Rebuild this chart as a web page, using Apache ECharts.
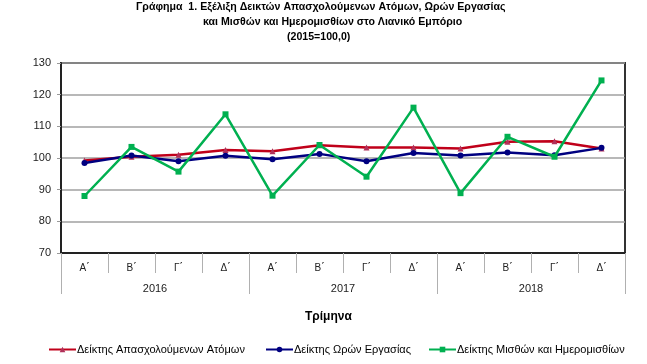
<!DOCTYPE html>
<html>
<head>
<meta charset="utf-8">
<script src="https://cdn.jsdelivr.net/npm/echarts@6/dist/echarts.min.js"></script>
<style>
html,body{margin:0;padding:0;background:#fff;}
#c{width:647px;height:364px;}
</style>
</head>
<body>
<div id="c"></div>
<script>
var quarters = ['Α΄','Β΄','Γ΄','Δ΄','Α΄','Β΄','Γ΄','Δ΄','Α΄','Β΄','Γ΄','Δ΄'];
var years = ['2016','2017','2018'];
var yTicks = [70, 80, 90, 100, 110, 120, 130];
var employed = [99.2, 100.4, 101.0, 102.5, 102.1, 104.0, 103.3, 103.3, 103.0, 105.1, 105.3, 103.0];
var hours = [98.4, 100.8, 99.0, 100.7, 99.6, 101.3, 99.0, 101.6, 100.8, 101.7, 100.9, 103.2];
var wages = [88.0, 103.5, 95.7, 113.8, 88.1, 104.1, 94.1, 115.9, 88.9, 106.7, 100.4, 124.5];
var seriesNames = ['Δείκτης Απασχολούμενων Ατόμων', 'Δείκτης Ωρών Εργασίας', 'Δείκτης Μισθών και Ημερομισθίων'];

var FONT = "'Liberation Sans',Arial,sans-serif";
var qCats = quarters.map(function(q, i){ return q + '|' + i; });

var chart = echarts.init(document.getElementById('c'), null, {renderer: 'canvas'});
var TF = 'bold 10.6px ' + FONT;
var option = {
  animation: false,
  backgroundColor: '#fff',
  textStyle: {fontFamily: FONT},
  grid: {left: 61, right: 22, top: 63, height: 190, show: true, borderColor: '#333', borderWidth: 2, containLabel: false},
  graphic: [
    {type: 'text', left: 136, top: 2, style: {text: 'Γράφημα  1. Εξέλιξη Δεικτών Απασχολούμενων Ατόμων, Ωρών Εργασίας', font: TF, fill: '#000'}},
    {type: 'text', left: 203, top: 17, style: {text: 'και Μισθών και Ημερομισθίων στο Λιανικό Εμπόριο', font: TF, fill: '#000'}},
    {type: 'text', left: 287, top: 32, style: {text: '(2015=100,0)', font: TF, fill: '#000'}},
    {type: 'text', left: 305, top: 311, style: {text: 'Τρίμηνα', font: 'bold 12px ' + FONT, fill: '#000'}}
  ],
  legend: [
    {data: [seriesNames[0]], left: 43, top: 339, itemWidth: 27, itemHeight: 7, textStyle: {fontSize: 11, color: '#000', fontFamily: FONT, padding: [0,0,0,-4]}},
    {data: [seriesNames[1]], left: 260, top: 339, itemWidth: 27, itemHeight: 7, textStyle: {fontSize: 11, color: '#000', fontFamily: FONT, padding: [0,0,0,-4]}},
    {data: [seriesNames[2]], left: 423, top: 339, itemWidth: 27, itemHeight: 7, textStyle: {fontSize: 11, color: '#000', fontFamily: FONT, padding: [0,0,0,-4]}}
  ],
  xAxis: [
    {
      type: 'category', data: qCats, position: 'bottom', boundaryGap: true,
      axisLine: {show: true, lineStyle: {color: '#222', width: 2}},
      axisTick: {show: true, length: 20, interval: 0, lineStyle: {color: '#b0b0b0', width: 1}},
      axisLabel: {interval: 0, margin: 10, fontSize: 10, color: '#222', fontFamily: FONT,
        formatter: function(v){ return v.split('|')[0]; }},
      splitLine: {show: false}
    },
    {
      type: 'category', data: years, position: 'bottom', boundaryGap: true,
      axisLine: {show: false},
      axisTick: {show: true, length: 41, interval: 0, lineStyle: {color: '#b0b0b0', width: 1}},
      axisLabel: {interval: 0, margin: 30, fontSize: 11, color: '#222', fontFamily: FONT},
      splitLine: {show: false}
    }
  ],
  yAxis: {
    type: 'value', min: yTicks[0], max: yTicks[yTicks.length - 1], interval: 10,
    axisLine: {show: true, lineStyle: {color: '#222', width: 2}},
    axisTick: {show: true, length: 4, lineStyle: {color: '#999'}},
    axisLabel: {margin: 10, fontSize: 11, color: '#222', fontFamily: FONT},
    splitLine: {show: true, lineStyle: {color: '#a0a0a0', width: 1.5}}
  },
  series: [
    {name: seriesNames[0], type: 'line', data: employed, xAxisIndex: 0,
      symbol: 'triangle', symbolSize: 6, showAllSymbol: true,
      lineStyle: {color: '#c0001a', width: 2.5}, itemStyle: {color: '#b0305a'}, z: 3},
    {name: seriesNames[1], type: 'line', data: hours, xAxisIndex: 0,
      symbol: 'circle', symbolSize: 6, showAllSymbol: true,
      lineStyle: {color: '#000080', width: 2.5}, itemStyle: {color: '#000080'}, z: 4},
    {name: seriesNames[2], type: 'line', data: wages, xAxisIndex: 0,
      symbol: 'rect', symbolSize: 6, showAllSymbol: true,
      lineStyle: {color: '#00b050', width: 2.5}, itemStyle: {color: '#00b050'}, z: 5}
  ]
};
chart.setOption(option);
</script>
</body>
</html>
